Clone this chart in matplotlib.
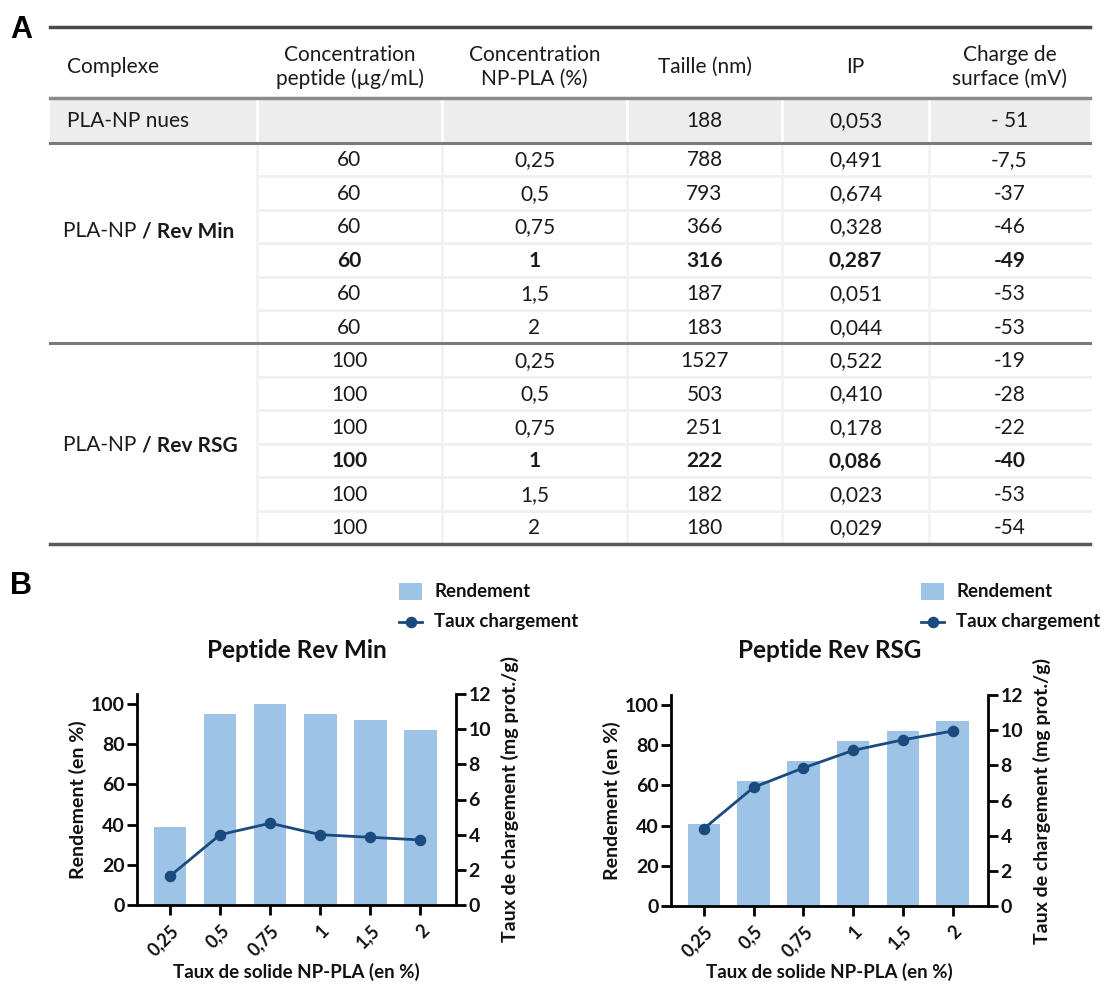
import matplotlib
matplotlib.use("Agg")
import matplotlib.pyplot as plt
from matplotlib.patches import Rectangle
from matplotlib.lines import Line2D

# ---------------- data ----------------
header_labels = ["Complexe", "Concentration\npeptide (µg/mL)", "Concentration\nNP-PLA (%)",
                 "Taille (nm)", "IP", "Charge de\nsurface (mV)"]
nues_label = "PLA-NP nues"
nues_taille = "188"
nues_ip = "0,053"
nues_charge = "- 51"

group_prefix = "PLA-NP "
group_names = ["/ Rev Min", "/ Rev RSG"]
conc_peptide_min = ["60", "60", "60", "60", "60", "60"]
conc_peptide_rsg = ["100", "100", "100", "100", "100", "100"]
np_pla = ["0,25", "0,5", "0,75", "1", "1,5", "2"]
taille_min = ["788", "793", "366", "316", "187", "183"]
ip_min = ["0,491", "0,674", "0,328", "0,287", "0,051", "0,044"]
charge_min = ["-7,5", "-37", "-46", "-49", "-53", "-53"]
taille_rsg = ["1527", "503", "251", "222", "182", "180"]
ip_rsg = ["0,522", "0,410", "0,178", "0,086", "0,023", "0,029"]
charge_rsg = ["-19", "-28", "-22", "-40", "-53", "-54"]
bold_row = 3

x_labels = ["0,25", "0,5", "0,75", "1", "1,5", "2"]
rendement_min = [39, 95, 100, 95, 92, 87]
taux_min = [1.65, 4.0, 4.65, 4.0, 3.85, 3.7]
rendement_rsg = [41, 62, 72, 82, 87, 92]
taux_rsg = [4.4, 6.75, 7.85, 8.85, 9.45, 9.95]
chart_titles = ["Peptide Rev Min", "Peptide Rev RSG"]

# ---------------- style ----------------
W, H = 1104, 986
FONT = "Lato"
plt.rcParams["font.family"] = [FONT, "DejaVu Sans"]
BAR_C = "#9DC3E6"
LINE_C = "#1B4A7E"
TXT_C = "#1A1A1A"
CH_C = "#111111"

fig = plt.figure(figsize=(W / 100, H / 100), dpi=100)

# full-figure pixel axes for the table and labels
tab = fig.add_axes([0, 0, 1, 1])
tab.set_xlim(0, W)
tab.set_ylim(H, 0)
tab.axis("off")

fig.text(10 / W, 1 - 30 / H, "A", fontsize=22, fontweight="bold",
         family="Liberation Sans", va="center", ha="left")
fig.text(10 / W, 1 - 586 / H, "B", fontsize=22, fontweight="bold",
         family="Liberation Sans", va="center", ha="left")

# table geometry
col_edges = [50, 257, 442, 627, 782, 929, 1090]
top_y = 27
head_bot = 98
nues_bot = 142.7
row_h = 33.45
n_rows = len(np_pla)
TFS = 15

# header
cx = [(col_edges[i] + col_edges[i + 1]) / 2 for i in range(len(col_edges) - 1)]
tab.text(67, 67, header_labels[0], ha="left", va="center", fontsize=TFS, color=TXT_C,
         linespacing=1.25)
for i in range(1, len(header_labels)):
    tab.text(cx[i], 67, header_labels[i], ha="center", va="center", fontsize=TFS,
             color=TXT_C, linespacing=1.25)

# nues shaded row
tab.add_patch(Rectangle((col_edges[0], head_bot), col_edges[-1] - col_edges[0],
                        nues_bot - head_bot, facecolor="#EDEDED", edgecolor="none"))
for xe in col_edges[1:-1]:
    tab.plot([xe, xe], [head_bot, nues_bot], color="white", lw=2)
ny = (head_bot + nues_bot) / 2 + 1
tab.text(67, ny, nues_label, ha="left", va="center", fontsize=TFS, color=TXT_C)
for i, v in zip([3, 4, 5], [nues_taille, nues_ip, nues_charge]):
    tab.text(cx[i], ny, v, ha="center", va="center", fontsize=TFS, color=TXT_C)

# groups
groups = [
    (conc_peptide_min, np_pla, taille_min, ip_min, charge_min),
    (conc_peptide_rsg, np_pla, taille_rsg, ip_rsg, charge_rsg),
]
renderer = fig.canvas.get_renderer()
for g, cols in enumerate(groups):
    g_top = nues_bot + g * n_rows * row_h
    g_bot = g_top + n_rows * row_h
    for r in range(1, n_rows):
        yy = g_top + r * row_h
        tab.plot([col_edges[1], col_edges[-1]], [yy, yy], color="#F0F0F0", lw=2)
    for xe in col_edges[1:-1]:
        tab.plot([xe, xe], [g_top, g_bot], color="#F2F2F2", lw=2)
    for r in range(n_rows):
        yy = g_top + (r + 0.5) * row_h + 1
        fw = "bold" if r == bold_row else "normal"
        for c, vals in enumerate(cols):
            tab.text(cx[c + 1], yy, vals[r], ha="center", va="center", fontsize=TFS,
                     color=TXT_C, fontweight=fw)
    ly = g_top + 2.65 * row_h if g == 0 else g_top + 3.05 * row_h
    t1 = tab.text(63, ly, group_prefix, ha="left", va="center", fontsize=TFS, color=TXT_C)
    bb = t1.get_window_extent(renderer=renderer)
    tab.text(63 + bb.width, ly, group_names[g], ha="left", va="center", fontsize=TFS,
             color=TXT_C, fontweight="bold")

# horizontal rules
tab.plot([col_edges[0], col_edges[-1]], [top_y, top_y], color="#4A4A4A", lw=2.5)
tab.plot([col_edges[0], col_edges[-1]], [head_bot, head_bot], color="#8A8A8A", lw=2.5)
tab.plot([col_edges[0], col_edges[-1]], [nues_bot, nues_bot], color="#7A7A7A", lw=2.2)
mid = nues_bot + n_rows * row_h
tab.plot([col_edges[0], col_edges[-1]], [mid, mid], color="#7A7A7A", lw=2.2)
bot = nues_bot + 2 * n_rows * row_h
tab.plot([col_edges[0], col_edges[-1]], [bot, bot], color="#5A5A5A", lw=2.5)

# ---------------- charts ----------------
chart_specs = [
    (137, 456, 694, 905, rendement_min, taux_min, 399),
    (671, 988, 695, 906, rendement_rsg, taux_rsg, 921),
]
TK = 14
LG = 13.4
for k, (x0, x1, y0, y1, rend, taux, lgx) in enumerate(chart_specs):
    ax = fig.add_axes([x0 / W, 1 - y1 / H, (x1 - x0) / W, (y1 - y0) / H])
    ax2 = ax.twinx()
    xs = list(range(len(x_labels)))
    ax.bar(xs, rend, width=0.65, color=BAR_C, zorder=1)
    ax2.plot(xs, taux, color=LINE_C, lw=2, marker="o", markersize=7.3, zorder=3)
    ax.set_xlim(-0.66, 5.71)
    ax.set_ylim(0, 105)
    ax2.set_ylim(0, 12)
    ax.set_yticks([0, 20, 40, 60, 80, 100])
    ax2.set_yticks([0, 2, 4, 6, 8, 10, 12])
    ax.set_xticks(xs)
    ax.set_xticklabels(x_labels, rotation=45, ha="right", rotation_mode="anchor",
                       fontsize=13, fontweight="bold", color=CH_C)
    for a in (ax, ax2):
        a.patch.set_visible(False)
        a.spines["top"].set_visible(False)
        for s in a.spines.values():
            s.set_linewidth(2)
        a.tick_params(width=2, length=7, labelsize=TK, pad=2, labelcolor=CH_C)
        for lab in a.get_yticklabels():
            lab.set_fontweight("bold")
    ax.tick_params(axis="x", labelsize=13, pad=5)
    ax.spines["right"].set_visible(False)
    ax2.spines["left"].set_visible(False)
    ax2.spines["bottom"].set_visible(False)
    ax.set_ylabel("Rendement (en %)", fontsize=TK, fontweight="bold", color=CH_C)
    ax.yaxis.set_label_coords(-(59) / (x1 - x0), 0.5)
    ax2.set_ylabel("Taux de chargement (mg prot./g)", fontsize=TK, fontweight="bold",
                   color=CH_C)
    ax2.yaxis.label.set_va("center")
    ax2.yaxis.set_label_coords(1 + 54 / (x1 - x0), 0.5)
    ax.yaxis.label.set_va("center")
    ax.set_xlabel("Taux de solide NP-PLA (en %)", fontsize=13.5, fontweight="bold",
                  color=CH_C)
    ax.xaxis.label.set_va("center")
    ax.xaxis.set_label_coords(0.5, -(972 - y1) / (y1 - y0))
    ax.text(0.5, (y1 - 650) / (y1 - y0), chart_titles[k], transform=ax.transAxes,
            ha="center", va="center", fontsize=17.5, fontweight="bold", color=CH_C)
    # legend (manual)
    tab.add_patch(Rectangle((lgx, 583), 23, 17, facecolor=BAR_C, edgecolor="none"))
    tab.add_line(Line2D([lgx, lgx + 23], [621.5, 621.5], color=LINE_C, lw=2))
    tab.plot([lgx + 11.5], [621.5], marker="o", color=LINE_C, markersize=7.3)
    tab.text(lgx + 35, 591.5, "Rendement", ha="left", va="center", fontsize=LG,
             fontweight="bold", color=CH_C)
    tab.text(lgx + 35, 621.5, "Taux chargement", ha="left", va="center", fontsize=LG,
             fontweight="bold", color=CH_C)

fig.savefig("out.png", dpi=100)
